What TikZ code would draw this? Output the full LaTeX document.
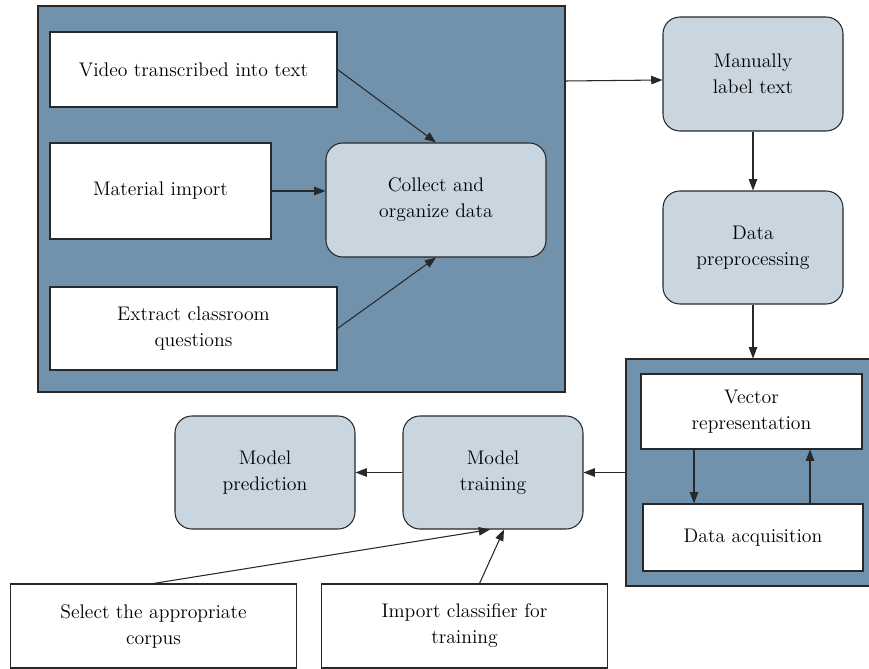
\documentclass[tikz,border=0pt]{standalone}
\usetikzlibrary{arrows.meta,calc}
\definecolor{panelblue}{RGB}{113,146,173}
\definecolor{softblue}{RGB}{201,214,224}
\definecolor{edgegray}{RGB}{40,40,40}
\tikzset{line/.style={draw=edgegray, line width=0.75pt}}
\tikzset{arr/.style={line, -{Triangle[length=8pt,width=6pt]}}}
\tikzset{panel/.style args={#1/#2}{line, fill=panelblue, minimum width=#1*0.025cm, minimum height=#2*0.025cm, inner sep=0pt}}
\tikzset{box/.style args={#1/#2}{line, fill=white, minimum width=#1*0.025cm, minimum height=#2*0.025cm, inner sep=0pt, align=center, font=\fontsize{14}{18.5}\selectfont}}
\tikzset{soft/.style args={#1/#2}{box={#1/#2}, fill=softblue, rounded corners=12pt}}

\begin{document}
\begin{tikzpicture}[x=0.025cm, y=-0.025cm]
\useasboundingbox (0,0) rectangle (869,669);
\node[panel={527/386}] (gather) at (301.5,199) {};
\node[panel={245/227}] (encode) at (748.5,472.5) {};
\node[box={287/75}] (video) at (193.5,69.5) {Video transcribed into text};
\node[box={221/96}] (material) at (160.5,191) {Material import};
\node[box={287/83}] (extract) at (193.5,328.5) {Extract classroom\\questions};
\node[soft={220/114}] (collect) at (436,200) {Collect and\\organize data};
\node[soft={180/114}] (label) at (753,74) {Manually\\label text};
\node[soft={180/113}] (prep) at (753,247.5) {Data\\preprocessing};
\node[box={221/75}] (vector) at (751.5,411.5) {Vector\\representation};
\node[box={220/67}] (acquire) at (753,537.5) {Data acquisition};
\node[soft={180/113}] (train) at (493,472.5) {Model\\training};
\node[soft={180/113}] (predict) at (265,472.5) {Model\\prediction};
\node[box={286/84}] (corpus) at (153.5,626) {Select the appropriate\\corpus};
\node[box={286/84}] (classifier) at (464.5,626) {Import classifier for\\training};
\coordinate (down) at ($(vector.south)+(-57.5,0)$);
\coordinate (up) at ($(acquire.north)+(57,0)$);
\draw[arr] (video.east) -- (collect.north);
\draw[arr] (material.east) -- (material.east -| collect.west);
\draw[arr] (extract.east) -- (collect.south);
\draw[arr] (gather.east |- 0,81) -- (label.west |- 0,80);
\draw[arr] (label.south) -- (prep.north);
\draw[arr] (prep.south) -- (prep.south |- encode.north);
\draw[arr] (down) -- (down |- acquire.north);
\draw[arr] (up) -- (up |- vector.south);
\draw[arr] (encode.west) -- (train.east);
\draw[arr] (train.west) -- (predict.east);
\draw[arr] (corpus.north) -- ($(train.south)+(-3,0)$);
\draw[arr] ($(classifier.north)+(15,0)$) -- ($(train.south)+(11,0)$);
\end{tikzpicture}
\end{document}
